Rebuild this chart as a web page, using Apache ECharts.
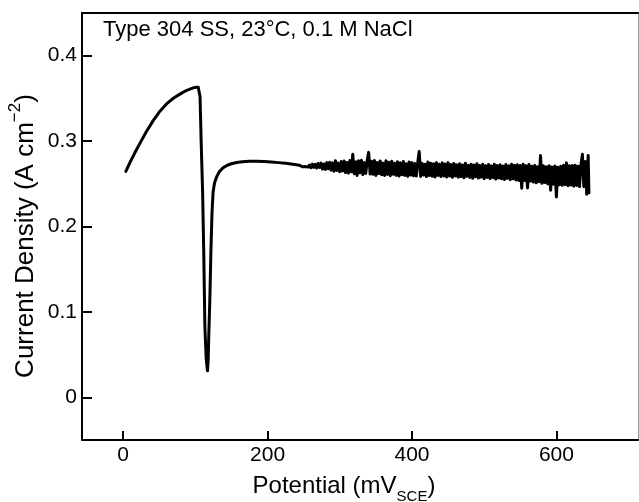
<!DOCTYPE html>
<html><head><meta charset="utf-8">
<script src="https://cdn.jsdelivr.net/npm/echarts@6/dist/echarts.min.js"></script>
<style>html,body{margin:0;padding:0;background:#fff}#c{width:639px;height:502px}</style>
</head><body><div id="c"></div>
<script>
// Active dissolution rise (mV, A cm^-2)
var risePotential = [3.7, 10, 16, 23, 32, 41.6, 50, 60, 70, 78.6, 88, 97, 101, 104];
var riseCurrent   = [0.2646, 0.276, 0.286, 0.297, 0.311, 0.324, 0.334, 0.3435, 0.3505, 0.355, 0.3595, 0.3623, 0.363, 0.363];
// Sharp dip and recovery
var dipPotential = [105.5, 106.5, 108, 110, 111.6, 113.2, 115, 116.8, 117.8, 118.5, 120, 121.5, 123, 124.5, 126.5, 129.4, 133, 138.6, 145, 150, 157, 165, 175, 185, 195, 205, 215, 225, 235, 244];
var dipCurrent   = [0.361, 0.352, 0.300, 0.242, 0.170, 0.082, 0.045, 0.031, 0.045, 0.07, 0.113, 0.17, 0.215, 0.240, 0.251, 0.258, 0.264, 0.269, 0.272, 0.2735, 0.275, 0.2758, 0.2763, 0.2765, 0.2762, 0.2755, 0.2748, 0.274, 0.2728, 0.2718];
// Noisy plateau
var noisePotential = [246,248,250,252,254,256,258,260,262,264,266,268,270,272,274,276,278,280,282,284,286,288,290,292,294,296,298,300,302,304,306,308,310,312,314,316,318,320,322,324,326,328,330,332,334,336,338,340,342,344,346,348,350,352,354,356,358,360,362,364,366,368,370,372,374,376,378,380,382,384,386,388,390,392,394,396,398,400,402,404,406,408,410,412,414,416,418,420,422,424,426,428,430,432,434,436,438,440,442,444,446,448,450,452,454,456,458,460,462,464,466,468,470,472,474,476,478,480,482,484,486,488,490,492,494,496,498,500,502,504,506,508,510,512,514,516,518,520,522,524,526,528,530,532,534,536,538,540,542,544,546,548,550,552,554,556,558,560,562,564,566,568,570,572,574,576,578,580,582,584,586,588,590,592,594,596,598,600,602,604,606,608,610,612,614,616,618,620,622,624,626,628,630,632,634,636,638,640,642,644,645];
var noiseCurrent = [
0.2718,0.2700,0.2716,0.2702,0.2724,0.2695,0.2720,0.2688,0.2730,0.2692,
0.2728,0.2684,0.2738,0.2690,0.2742,0.2672,0.2732,0.2668,0.2748,0.2676,
0.2752,0.2660,0.2745,0.2648,0.2770,0.2655,0.2742,0.2640,0.2760,0.2650,
0.2768,0.2632,0.2750,0.2625,0.2772,0.2640,0.2845,0.2618,0.2758,0.2598,
0.2770,0.2630,0.2775,0.2608,0.2748,0.2622,0.2778,0.2868,0.2615,0.2765,
0.2612,0.2772,0.2598,0.2750,0.2620,0.2768,0.2605,0.2742,0.2598,0.2770,
0.2610,0.2752,0.2595,0.2765,0.2612,0.2740,0.2600,0.2758,0.2590,0.2745,
0.2605,0.2762,0.2598,0.2735,0.2588,0.2755,0.2602,0.2748,0.2594,0.2738,
0.2590,0.2752,0.2878,0.2586,0.2742,0.2602,0.2730,0.2585,0.2755,0.2596,
0.2740,0.2588,0.2735,0.2580,0.2748,0.2598,0.2728,0.2585,0.2745,0.2592,
0.2732,0.2580,0.2748,0.2590,0.2725,0.2576,0.2738,0.2592,0.2722,0.2578,
0.2735,0.2584,0.2720,0.2570,0.2742,0.2588,0.2718,0.2575,0.2730,0.2565,
0.2720,0.2582,0.2735,0.2568,0.2715,0.2578,0.2728,0.2560,0.2712,0.2575,
0.2725,0.2562,0.2710,0.2572,0.2730,0.2555,0.2715,0.2568,0.2722,0.2558,
0.2708,0.2550,0.2725,0.2565,0.2712,0.2548,0.2730,0.2558,0.2718,0.2545,
0.2722,0.2538,0.2715,0.2448,0.2728,0.2540,0.2712,0.2452,0.2725,0.2532,
0.2705,0.2520,0.2715,0.2512,0.2700,0.2525,0.2830,0.2505,0.2712,0.2515,
0.2700,0.2500,0.2712,0.2425,0.2698,0.2495,0.2708,0.2345,0.2695,0.2488,
0.2705,0.2482,0.2718,0.2490,0.2745,0.2478,0.2710,0.2485,0.2715,0.2472,
0.2718,0.2480,0.2705,0.2468,0.2725,0.2845,0.2465,0.2760,0.2378,0.2832,0.2395];

var xTicks = [0, 200, 400, 600];
var yTicks = [0, 0.1, 0.2, 0.3, 0.4];

function zip(xs, ys) { var out = []; for (var i = 0; i < xs.length; i++) out.push([xs[i], ys[i]]); return out; }
var data = zip(risePotential, riseCurrent).concat(zip(dipPotential, dipCurrent)).concat(zip(noisePotential, noiseCurrent));

var FONT = 'Liberation Sans, Arial, Helvetica, sans-serif';
var chart = echarts.init(document.getElementById('c'), null, {renderer: 'canvas'});
chart.setOption({
  animation: false,
  grid: {left: 82, right: 1, top: 13, bottom: 62, containLabel: false},
  xAxis: [{
    type: 'value', min: -57, max: 713, position: 'bottom',
    axisLine: {show: true, onZero: false, lineStyle: {color: '#000', width: 2}},
    axisTick: {show: true, inside: true, length: 9, lineStyle: {color: '#000', width: 2}, customValues: xTicks},
    axisLabel: {show: true, margin: 5, color: '#000', fontSize: 21, fontFamily: FONT, customValues: xTicks},
    splitLine: {show: false}
  }, {
    type: 'value', min: -57, max: 713, position: 'top',
    axisLine: {show: true, onZero: false, lineStyle: {color: '#000', width: 2}},
    axisTick: {show: false}, axisLabel: {show: false}, splitLine: {show: false}
  }],
  yAxis: [{
    type: 'value', min: -0.05, max: 0.45, position: 'left',
    axisLine: {show: true, onZero: false, lineStyle: {color: '#000', width: 2}},
    axisTick: {show: true, inside: true, length: 10, lineStyle: {color: '#000', width: 2}, customValues: yTicks},
    axisLabel: {show: true, margin: 5, color: '#000', fontSize: 21, fontFamily: FONT, customValues: yTicks},
    splitLine: {show: false}
  }, {
    type: 'value', min: -0.05, max: 0.45, position: 'right',
    axisLine: {show: true, onZero: false, lineStyle: {color: '#999', width: 1}},
    axisTick: {show: false}, axisLabel: {show: false}, splitLine: {show: false}
  }],
  series: [{
    type: 'line', data: data, xAxisIndex: 0, yAxisIndex: 0,
    showSymbol: false, symbol: 'none', smooth: false,
    lineStyle: {color: '#000', width: 3, join: 'round', cap: 'round'}
  }],
  graphic: [
    {type: 'text', left: 103, top: 19, style: {text: 'Type 304 SS, 23°C, 0.1 M NaCl', fill: '#000', font: '22px ' + FONT}},
    {type: 'text', x: 344, y: 489, style: {
      text: '{a|Potential (mV}{s|SCE}{a|)}', align: 'center', verticalAlign: 'middle',
      rich: {a: {fontSize: 24, fontFamily: FONT, fill: '#000', lineHeight: 30, verticalAlign: 'top'},
             s: {fontSize: 15, fontFamily: FONT, fill: '#000', lineHeight: 30, verticalAlign: 'bottom'}}
    }},
    {type: 'text', x: 23, y: 236, rotation: Math.PI / 2, style: {
      text: '{a|Current Density (A cm}{p|−2}{a|)}', align: 'center', verticalAlign: 'middle',
      rich: {a: {fontSize: 26, fontFamily: FONT, fill: '#000', lineHeight: 32, verticalAlign: 'bottom'},
             p: {fontSize: 17, fontFamily: FONT, fill: '#000', lineHeight: 32, verticalAlign: 'top'}}
    }}
  ]
});
</script></body></html>
